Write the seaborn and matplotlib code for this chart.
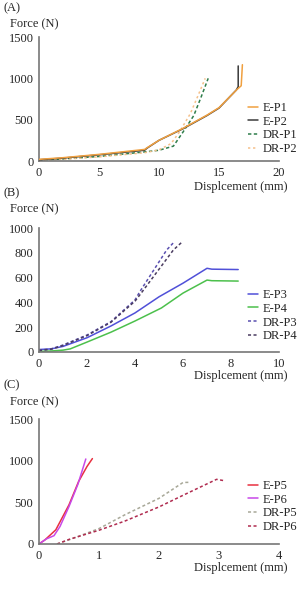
import numpy as np
import pandas as pd
import matplotlib
matplotlib.use("Agg")
import matplotlib.pyplot as plt
import seaborn as sns

# ---- panel A : displacement (mm) / force (N)
ep1_x = [0, 2, 5, 8.8, 9.0, 10, 12, 14, 15, 16.5, 16.85, 16.95]
ep1_y = [20, 40, 80, 140, 160, 250, 395, 555, 645, 865, 910, 1165]
ep2_x = [0, 2, 5, 8.8, 9.0, 10, 12, 14, 15, 16.45, 16.6, 16.6]
ep2_y = [15, 35, 75, 130, 155, 250, 390, 550, 640, 860, 900, 1150]
drp1_x = [0, 2, 5, 8.8, 10, 11.2, 12.0, 12.9, 13.5, 14.1]
drp1_y = [10, 25, 55, 110, 130, 180, 350, 550, 770, 1000]
drp2_x = [0, 2, 5, 8.8, 10, 11.0, 11.7, 12.6, 13.25, 13.85]
drp2_y = [5, 20, 50, 100, 135, 210, 350, 570, 790, 1000]

# ---- panel B
ep3_x = [0, 0.5, 1, 2, 3, 4, 5, 6, 7, 7.2, 8.3]
ep3_y = [20, 25, 45, 115, 210, 315, 445, 555, 675, 668, 665]
ep4_x = [0, 0.5, 1, 1.3, 2, 3, 4, 5.1, 6, 7, 7.2, 8.3]
ep4_y = [5, 8, 15, 25, 80, 160, 250, 355, 475, 580, 575, 572]
drp3_x = [0, 0.5, 1, 2, 3, 4, 4.2, 5.32, 5.62]
drp3_y = [15, 25, 56, 137, 245, 420, 486, 823, 885]
drp4_x = [0, 0.5, 1, 2, 3, 4, 4.2, 5.6, 5.95]
drp4_y = [12, 22, 52, 132, 240, 410, 460, 823, 885]

# ---- panel C
ep5_x = [0, 0.1, 0.28, 0.5, 0.66, 0.8, 0.89]
ep5_y = [0, 50, 170, 470, 750, 930, 1025]
ep6_x = [0, 0.12, 0.25, 0.35, 0.5, 0.65, 0.78]
ep6_y = [0, 60, 100, 210, 450, 720, 1020]
drp5_x = [0.3, 0.5, 1, 1.43, 2, 2.4, 2.5]
drp5_y = [0, 50, 185, 350, 548, 738, 740]
drp6_x = [0.3, 0.5, 1, 1.43, 2, 2.46, 2.96, 3.1]
drp6_y = [0, 55, 165, 275, 445, 605, 776, 758]

panels = [
    dict(tag="(A)", xlim=20, xticks=[0, 5, 10, 15, 20], ylim=1500, yticks=[0, 500, 1000, 1500],
         series=[("E-P1", ep1_x, ep1_y, "#f0a040", "-", 4),
                 ("E-P2", ep2_x, ep2_y, "#3a3a3a", "-", 3),
                 ("DR-P1", drp1_x, drp1_y, "#2e7d4a", (0, (2.2, 1.6)), 2),
                 ("DR-P2", drp2_x, drp2_y, "#f5c08a", (0, (1.5, 1.8)), 2)]),
    dict(tag="(B)", xlim=10, xticks=[0, 2, 4, 6, 8, 10], ylim=1000, yticks=[0, 200, 400, 600, 800, 1000],
         series=[("E-P3", ep3_x, ep3_y, "#5050d8", "-", 2),
                 ("E-P4", ep4_x, ep4_y, "#4cc04c", "-", 2),
                 ("DR-P3", drp3_x, drp3_y, "#5a50b0", (0, (2.0, 1.6)), 2),
                 ("DR-P4", drp4_x, drp4_y, "#4a3c60", (0, (2.0, 1.6)), 2)]),
    dict(tag="(C)", xlim=4, xticks=[0, 1, 2, 3, 4], ylim=1500, yticks=[0, 500, 1000, 1500],
         series=[("E-P5", ep5_x, ep5_y, "#e83040", "-", 2),
                 ("E-P6", ep6_x, ep6_y, "#c848e8", "-", 2),
                 ("DR-P5", drp5_x, drp5_y, "#a8a898", (0, (2.0, 1.6)), 2),
                 ("DR-P6", drp6_x, drp6_y, "#b02c50", (0, (2.0, 1.6)), 2)]),
]

sns.set_style("white")
plt.rcParams["font.family"] = ["Liberation Serif", "DejaVu Serif"]
fs = 9

W, H = 305, 592
fig = plt.figure(figsize=(W / 100, H / 100), dpi=100)

# pixel layout: (axes top, axes bottom, force label y, disp label y, tag y, legend top)
layout = [(37, 161, 24, 187, 8, 102),
          (228, 352, 209, 376, 193, 289),
          (419, 544, 402, 568, 385, 480)]

for p, (top, bot, fy, dy, ty, ly) in zip(panels, layout):
    ax = fig.add_axes([39 / W, 1 - bot / H, 240 / W, (bot - top) / H])
    for name, xs, ys, col, ls, z in p["series"]:
        sns.lineplot(x=xs, y=ys, ax=ax, color=col, linestyle=ls, lw=1.1,
                     sort=False, estimator=None, label=name, zorder=z)
    ax.set_xlim(0, p["xlim"])
    ax.set_ylim(0, p["ylim"])
    ax.set_xticks(p["xticks"])
    ax.set_yticks(p["yticks"])
    ax.tick_params(labelsize=fs, length=3, width=0.8, color="#777777", pad=1)
    for s in ["top", "right"]:
        ax.spines[s].set_visible(False)
    for s in ["left", "bottom"]:
        ax.spines[s].set_color("#777777")
        ax.spines[s].set_linewidth(1.2)
    ax.set_xlabel("")
    ax.set_ylabel("")
    ax.legend(loc="upper left", bbox_to_anchor=(248 / W, 1 - ly / H),
              bbox_transform=fig.transFigure, frameon=False, fontsize=fs,
              handlelength=0.8, handletextpad=0.35, labelspacing=0.14,
              borderpad=0, borderaxespad=0)
    fig.text(3 / W, 1 - ty / H, p["tag"], fontsize=fs, va="center", ha="left")
    fig.text(10 / W, 1 - fy / H, "Force (N)", fontsize=fs, va="center", ha="left")
    fig.text(287 / W, 1 - dy / H, "Displcement (mm)", fontsize=fs, va="center", ha="right")

fig.savefig("out.png", dpi=100)
